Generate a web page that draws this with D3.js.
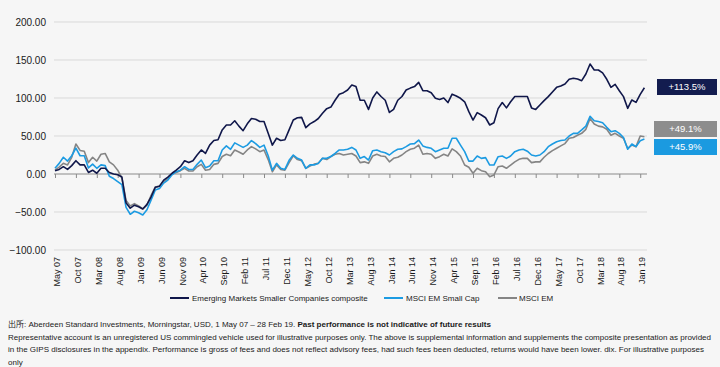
<!DOCTYPE html>
<html><head><meta charset="utf-8">
<script src="https://cdn.jsdelivr.net/npm/d3@7"></script>
<style>
html,body{margin:0;padding:0;background:#f6f6f6;}
svg{display:block;font-family:"Liberation Sans",Arial,"Noto Sans CJK JP",sans-serif;}
</style></head><body>
<svg id="c" width="720" height="367"></svg>
<script>
// ---- data ----
const startMonth = new Date(2007, 4, 1); // May 2007, 142 monthly observations to Feb 2019
const seriesNames = ["Emerging Markets Smaller Companies composite", "MSCI EM Small Cap", "MSCI EM"];
const composite = [4.4,6,9.6,6,11,17.5,12,12,2,5,
 1,7.5,7.5,2,0,-1,-4,-38,-45,-41,
 -43,-46,-40,-30,-17.5,-16,-8,-4,1,5,
 9.6,17.5,15,17.5,25,31.6,27,38,44,45,
 58,64.5,64.5,70,63,57,66,73,72,69,
 69,53.5,38,47,44,45,58,71,74,74.5,
 61,66,69,73,80,86,88,97,105,107,
 110.5,117,115,97,97,85,100,108,102,97,
 81,85,97,102,110.5,113,115,120.6,109.6,109.6,
 107,99.6,98,100,94,105,102.6,99.6,95,82,
 71,80.7,77.6,74,64.5,67.5,86,94,87,95,
 102,102,102,102,87,85,90.8,96.5,101.8,108,
 114,115.8,118.4,124.6,126,125,122.8,131.6,144.7,136.8,
 136.8,133,124.6,114,118,109.6,101.8,86.4,97.4,94.3,
 104.8,113.5];
const emSmallCap = [7.5,14,22,17,24,34,24,24,8,13,
 7.5,12,11,-3,-6,-10,-14,-44,-53,-49,
 -51,-54,-47,-34,-21,-19,-12,-8,-1,3,
 5,9.6,6,6,12.7,18.4,8.3,10.5,17.5,17.5,
 31.6,37,32.5,41,38,35,38,44,40,35,
 38,24,5,14,7.5,6,18,25,20.6,18.4,
 7.5,12,12,14,20.6,20.6,23,27,31.6,31.6,
 32.5,35,31.6,20.6,23,18.4,30.7,31.6,29.4,28,
 25,29.4,32.5,33,36,39.5,40,44.7,37,35,
 33.8,29.4,31.6,33.8,33.8,47,47,38,29.4,17,
 17,23.7,20.6,21.5,11.8,11.8,22.8,23.7,20.6,23.7,
 29.4,31.6,32.5,30,25,23.7,25,29.4,36,39.5,
 42.5,44,44.7,50,53.5,53.5,58,63,76,70,
 69,67.5,61.4,55.7,57,53.5,48,32.5,39.5,36,
 43.8,45.9];
const msciEM = [5,9,14,12,22,39.5,31,30,15,22,
 17,26,27,16,12,5,-5,-35,-42,-39,
 -42,-46,-41,-28,-17,-16,-10,-6,0,2,
 4.4,7.5,4,4,9.6,12.7,5,6,12.7,14,
 23,26,24,31.6,29,26,31.6,36,33,29.4,
 31.6,19,3,12,6,5,15,24,19,17.5,
 7.5,10.5,13,14,20.6,19,23,26,27,25,
 26,27,23.7,15,16,14,23.7,26,23.7,23,
 16,20.6,22,25,29.4,32.5,34,38,26,27,
 26,20.6,22.8,26,23.7,33,29.4,23.7,11.8,8.8,
 1,7.5,4.4,3,-3.5,-1.3,9.6,10.5,7.5,11.8,
 16,19.3,20.6,20.6,15,16,16,22,27,30.7,
 33.8,37,40,47,48,51,53.5,58.8,73,65.8,
 63,62,58.8,51,53.5,50,47,33.8,38,36,
 50,49.1];
const yTicks = [-100,-50,0,50,100,150,200];
const xTickLabels = ["May 07","Oct 07","Mar 08","Aug 08","Jan 09","Jun 09","Nov 09","Apr 10","Sep 10","Feb 11","Jul 11","Dec 11","May 12","Oct 12","Mar 13","Aug 13","Jan 14","Jun 14","Nov 14","Apr 15","Sep 15","Feb 16","Jul 16","Dec 16","May 17","Oct 17","Mar 18","Aug 18","Jan 19"];
const endLabels = ["+113.5%","+45.9%","+49.1%"];

// ---- build ----
const fmt = d3.timeFormat("%b %y");
const months = d3.range(composite.length).map(i => fmt(d3.timeMonth.offset(startMonth, i)));
const colors = ["#10174a","#1c9be2","#858585"];
const series = [composite, emSmallCap, msciEM];

const svg = d3.select("#c");
const x = d3.scalePoint().domain(months).range([55, 644.4]);
const y = d3.scaleLinear().domain([-100, 200]).range([250, 22]);

// gridlines
svg.append("g").selectAll("line").data(yTicks.filter(v => v !== 0)).join("line")
  .attr("x1", 54).attr("x2", 647).attr("y1", d => y(d)).attr("y2", d => y(d))
  .attr("stroke", "#d9d9d9").attr("stroke-width", 1);

// y axis labels
const yAxis = d3.axisLeft(y).tickValues(yTicks).tickFormat(d3.format(".2f")).tickSize(0).tickPadding(0);
const gy = svg.append("g").attr("transform", "translate(46,0)").call(yAxis);
gy.select(".domain").remove();
gy.selectAll("text").attr("font-size", 10).attr("fill", "#1a1a1a").attr("font-family", "Liberation Sans, Arial, sans-serif");

// zero axis with ticks
const xAxis = d3.axisBottom(x).tickValues(xTickLabels).tickSize(4).tickFormat("");
const gx = svg.append("g").attr("transform", `translate(0,${y(0)})`).call(xAxis);
gx.select(".domain").attr("d", `M54,0H647`).attr("stroke", "#8a8a8a");
gx.selectAll(".tick line").attr("stroke", "#8a8a8a");

// x labels rotated
svg.append("g").selectAll("text").data(xTickLabels).join("text")
  .attr("transform", d => `translate(${x(d) + 2},257) rotate(-90)`)
  .attr("dy", "0.35em").attr("text-anchor", "end")
  .attr("font-size", 9).attr("fill", "#1a1a1a").text(d => d);

// lines (draw gray, blue, then navy on top)
const line = d3.line().x((d, i) => x(months[i])).y(d => y(d));
[2, 1, 0].forEach(k => {
  svg.append("path").datum(series[k]).attr("d", line)
    .attr("fill", "none").attr("stroke", colors[k]).attr("stroke-width", 1.6)
    .attr("stroke-linejoin", "round");
});

// end labels
const boxes = [
  {k: 0, x: 657, y: 79, w: 60, h: 16, fill: "#131c4f"},
  {k: 2, x: 654, y: 121, w: 63, h: 16, fill: "#8d8d8d"},
  {k: 1, x: 654, y: 139, w: 63, h: 16, fill: "#1b9ae0"}
];
boxes.forEach(b => {
  svg.append("rect").attr("x", b.x).attr("y", b.y).attr("width", b.w).attr("height", b.h).attr("fill", b.fill);
  svg.append("text").attr("x", b.x + b.w / 2).attr("y", b.y + b.h / 2).attr("dy", "0.35em")
    .attr("text-anchor", "middle").attr("fill", "#fff").attr("font-size", 9.5)
    .text(endLabels[b.k]);
});

// legend
const leg = [
  {k: 0, x1: 170, x2: 189, tx: 192},
  {k: 1, x1: 384, x2: 403, tx: 406},
  {k: 2, x1: 498, x2: 517, tx: 519}
];
leg.forEach(l => {
  svg.append("line").attr("x1", l.x1).attr("x2", l.x2).attr("y1", 298).attr("y2", 298)
    .attr("stroke", colors[l.k]).attr("stroke-width", 2);
  svg.append("text").attr("x", l.tx).attr("y", 298).attr("dy", "0.35em")
    .attr("font-size", 8).attr("fill", "#1a1a1a").text(seriesNames[l.k]);
});

// footnote
const fn = svg.append("g").attr("font-size", 8).attr("fill", "#1a1a1a");
const t1 = fn.append("text").attr("x", 8).attr("y", 327);
t1.append("tspan").text("出所: Aberdeen Standard Investments, Morningstar,  USD, 1 May 07 – 28 Feb 19. ");
t1.append("tspan").attr("font-weight", "bold").text("Past performance is not indicative of future results");
fn.append("text").attr("x", 8).attr("y", 339.5).attr("textLength", 703).attr("lengthAdjust", "spacingAndGlyphs")
  .text("Representative account is an unregistered US commingled vehicle used for illustrative purposes only. The above is supplemental information and supplements the composite presentation as provided");
fn.append("text").attr("x", 8).attr("y", 352).attr("textLength", 696).attr("lengthAdjust", "spacingAndGlyphs")
  .text("in the GIPS disclosures in the appendix. Performance is gross of fees and does not reflect advisory fees, had such fees been deducted, returns would have been lower. dix. For illustrative purposes");
fn.append("text").attr("x", 8).attr("y", 364.5).text("only");
</script>
</body></html>
